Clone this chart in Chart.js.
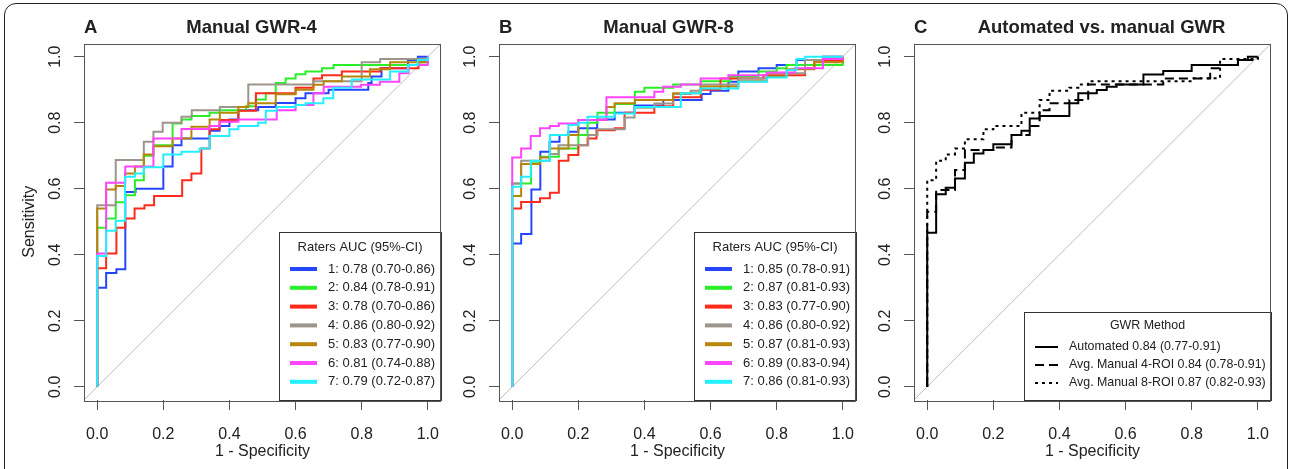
<!DOCTYPE html>
<html>
<head>
<meta charset="utf-8">
<script src="https://cdn.jsdelivr.net/npm/chart.js@4.4.1/dist/chart.umd.min.js"></script>
<style>
  body { margin: 0; background: #fff; width: 1290px; height: 469px; overflow: hidden; position: relative; }
  .frame { position: absolute; left: 4px; top: 3px; width: 1282px; height: 520px; border: 1px solid #222; border-radius: 12px; }
  canvas { position: absolute; top: 0; }
</style>
</head>
<body>
<div class="frame"></div>
<canvas id="panelA" width="445" height="469" style="left:0px"></canvas>
<canvas id="panelB" width="445" height="469" style="left:415px"></canvas>
<canvas id="panelC" width="445" height="469" style="left:830px"></canvas>
<script>
// axis ticks
const xTicks = [0, 0.2, 0.4, 0.6, 0.8, 1.0];
const yTicks = [0, 0.2, 0.4, 0.6, 0.8, 1.0];
const chance = [[-0.04, -0.04], [1.04, 1.04]];

// legend text
const raters = ['1', '2', '3', '4', '5', '6', '7'];
const aucA = ['0.78 (0.70-0.86)', '0.84 (0.78-0.91)', '0.78 (0.70-0.86)', '0.86 (0.80-0.92)',
              '0.83 (0.77-0.90)', '0.81 (0.74-0.88)', '0.79 (0.72-0.87)'];
const aucB = ['0.85 (0.78-0.91)', '0.87 (0.81-0.93)', '0.83 (0.77-0.90)', '0.86 (0.80-0.92)',
              '0.87 (0.81-0.93)', '0.89 (0.83-0.94)', '0.86 (0.81-0.93)'];
const methods = ['Automated 0.84 (0.77-0.91)', 'Avg. Manual 4-ROI 0.84 (0.78-0.91)', 'Avg. Manual 8-ROI 0.87 (0.82-0.93)'];

// ROC steps: [1 - specificity where the curve rises, sensitivity it rises to]
const rocA1 = [[0,0],[0,0.30],[0.027,0.345],[0.058,0.356],[0.085,0.59],[0.116,0.60],[0.2,0.667],[0.228,0.732],[0.255,0.752],[0.34,0.776],[0.37,0.79],[0.4,0.81],[0.427,0.838],[0.487,0.848],[0.54,0.86],[0.6,0.874],[0.63,0.889],[0.7,0.90],[0.82,0.92],[0.83,0.94],[0.86,0.965],[0.94,0.99],[0.97,1],[1,1]];
const rocA2 = [[0,0],[0,0.482],[0.027,0.51],[0.056,0.559],[0.084,0.58],[0.114,0.626],[0.141,0.70],[0.17,0.732],[0.228,0.798],[0.255,0.81],[0.285,0.82],[0.34,0.83],[0.37,0.838],[0.45,0.85],[0.48,0.87],[0.51,0.889],[0.54,0.92],[0.57,0.934],[0.6,0.947],[0.63,0.955],[0.68,0.965],[0.715,0.975],[0.97,0.983],[1,1]];
const rocA3 = [[0,0],[0,0.359],[0.027,0.404],[0.058,0.482],[0.085,0.51],[0.113,0.54],[0.143,0.55],[0.172,0.578],[0.257,0.626],[0.285,0.646],[0.315,0.722],[0.34,0.78],[0.37,0.808],[0.427,0.836],[0.48,0.889],[0.6,0.906],[0.654,0.934],[0.68,0.944],[0.74,0.955],[0.856,0.965],[0.972,0.985],[1,1]];
const rocA4 = [[0,0],[0,0.55],[0.056,0.687],[0.141,0.742],[0.17,0.773],[0.198,0.80],[0.255,0.818],[0.286,0.838],[0.371,0.848],[0.457,0.916],[0.654,0.926],[0.80,0.983],[0.856,0.993],[1,1]];
const rocA5 = [[0,0],[0,0.54],[0.027,0.598],[0.056,0.608],[0.084,0.646],[0.114,0.667],[0.141,0.704],[0.17,0.729],[0.228,0.752],[0.285,0.788],[0.34,0.81],[0.371,0.83],[0.427,0.848],[0.457,0.859],[0.54,0.886],[0.6,0.90],[0.654,0.915],[0.685,0.926],[0.74,0.94],[0.825,0.962],[0.886,0.983],[1,1]];
const rocA6 = [[0,0],[0,0.404],[0.027,0.618],[0.085,0.667],[0.17,0.752],[0.255,0.781],[0.34,0.79],[0.37,0.803],[0.427,0.81],[0.543,0.838],[0.6,0.854],[0.654,0.889],[0.685,0.909],[0.798,0.915],[0.855,0.924],[0.914,0.95],[0.942,0.975],[1,1]];
const rocA7 = [[0,0],[0,0.396],[0.027,0.473],[0.056,0.503],[0.084,0.636],[0.114,0.646],[0.141,0.665],[0.2,0.704],[0.255,0.712],[0.31,0.722],[0.34,0.76],[0.4,0.78],[0.427,0.79],[0.487,0.80],[0.51,0.836],[0.543,0.848],[0.6,0.854],[0.63,0.859],[0.684,0.874],[0.714,0.906],[0.77,0.931],[0.886,0.955],[0.94,0.975],[0.97,0.99],[1,1]];

const rocB1 = [[0,0],[0,0.434],[0.027,0.463],[0.058,0.598],[0.085,0.712],[0.113,0.742],[0.143,0.763],[0.17,0.773],[0.2,0.783],[0.257,0.81],[0.31,0.83],[0.37,0.852],[0.457,0.869],[0.573,0.887],[0.6,0.897],[0.654,0.924],[0.684,0.955],[0.745,0.965],[0.80,0.975],[0.86,0.99],[0.94,1],[1,1]];
const rocB2 = [[0,0],[0,0.616],[0.057,0.677],[0.084,0.697],[0.141,0.722],[0.2,0.763],[0.228,0.80],[0.258,0.83],[0.31,0.857],[0.371,0.894],[0.4,0.906],[0.487,0.916],[0.57,0.926],[0.66,0.94],[0.745,0.955],[0.80,0.965],[0.83,0.975],[1,1]];
const rocB3 = [[0,0],[0,0.54],[0.027,0.56],[0.084,0.571],[0.114,0.588],[0.141,0.685],[0.17,0.702],[0.2,0.732],[0.228,0.752],[0.255,0.777],[0.31,0.783],[0.34,0.83],[0.43,0.85],[0.487,0.877],[0.57,0.90],[0.63,0.934],[0.76,0.944],[0.886,0.965],[0.914,0.988],[1,1]];
const rocB4 = [[0,0],[0,0.616],[0.027,0.685],[0.113,0.705],[0.14,0.732],[0.23,0.763],[0.258,0.78],[0.34,0.816],[0.37,0.845],[0.43,0.858],[0.487,0.887],[0.54,0.897],[0.57,0.916],[0.684,0.934],[0.77,0.95],[0.886,0.99],[0.94,1],[1,1]];
const rocB5 = [[0,0],[0,0.578],[0.027,0.675],[0.084,0.695],[0.114,0.722],[0.17,0.763],[0.2,0.808],[0.285,0.848],[0.31,0.859],[0.371,0.869],[0.487,0.889],[0.57,0.91],[0.684,0.926],[0.77,0.94],[0.83,0.962],[0.914,0.983],[1,1]];
const rocB6 = [[0,0],[0,0.695],[0.027,0.722],[0.056,0.76],[0.084,0.783],[0.114,0.79],[0.141,0.798],[0.2,0.808],[0.285,0.877],[0.43,0.894],[0.457,0.909],[0.51,0.916],[0.57,0.934],[0.654,0.944],[0.77,0.952],[0.855,0.965],[0.94,0.993],[1,1]];
const rocB7 = [[0,0],[0,0.606],[0.027,0.636],[0.056,0.685],[0.114,0.763],[0.17,0.793],[0.2,0.80],[0.228,0.818],[0.31,0.828],[0.371,0.848],[0.51,0.889],[0.57,0.904],[0.684,0.924],[0.77,0.937],[0.83,0.96],[0.86,0.993],[0.886,1],[1,1]];

const rocAuto = [[0,0],[0,0.467],[0.027,0.583],[0.056,0.603],[0.084,0.631],[0.114,0.679],[0.141,0.707],[0.17,0.717],[0.2,0.735],[0.255,0.763],[0.285,0.776],[0.31,0.813],[0.34,0.82],[0.43,0.859],[0.457,0.889],[0.513,0.899],[0.543,0.909],[0.573,0.916],[0.654,0.946],[0.714,0.957],[0.8,0.975],[0.94,0.99],[0.97,1],[1,1]];
const rocMan4 = [[0,0],[0,0.53],[0.027,0.596],[0.084,0.657],[0.114,0.717],[0.2,0.725],[0.255,0.763],[0.31,0.79],[0.34,0.838],[0.37,0.859],[0.43,0.869],[0.487,0.916],[0.714,0.934],[0.856,0.965],[0.886,0.975],[0.94,0.99],[1,1]];
const rocMan8 = [[0,0],[0,0.626],[0.027,0.685],[0.056,0.704],[0.084,0.722],[0.114,0.75],[0.17,0.78],[0.2,0.79],[0.285,0.83],[0.34,0.869],[0.37,0.897],[0.43,0.906],[0.457,0.916],[0.487,0.926],[0.8,0.935],[0.886,0.993],[1,1]];

const raterColors = ['#2446ff', '#2aee2a', '#ff2a1a', '#9d958b', '#b8860b', '#ff44ff', '#22f0ff'];
const FONT = '"Liberation Sans", Arial, Helvetica, sans-serif';
Chart.defaults.font.family = FONT;
Chart.defaults.color = '#222';

const toPts = steps => steps.map(p => ({ x: p[0], y: p[1] }));

const rocFrame = {
  id: 'rocFrame',
  afterDatasetsDraw(chart, args, o) {
    const { ctx, chartArea: a } = chart;
    const L = o.legend;
    const lx = a.right - L.width, ly = a.top + L.top;
    ctx.save();
    ctx.fillStyle = '#fff';
    ctx.fillRect(lx, ly, a.right - lx, a.bottom - ly);
    ctx.strokeStyle = '#333';
    ctx.lineWidth = 1;
    ctx.strokeRect(Math.round(lx) + 0.5, Math.round(ly) + 0.5, Math.round(a.right - lx), Math.round(a.bottom - ly));
    ctx.fillStyle = '#222';
    ctx.font = L.fontSize + 'px ' + FONT;
    ctx.textAlign = 'center';
    ctx.textBaseline = 'middle';
    ctx.fillText(L.title, (lx + a.right) / 2, ly + L.titleDy);
    ctx.textAlign = 'left';
    chart.data.datasets.filter(d => d.label).forEach((d, i) => {
      const yy = ly + L.firstDy + i * L.gap;
      ctx.strokeStyle = d.borderColor;
      ctx.lineWidth = L.lineWidth;
      ctx.setLineDash(d.borderDash || []);
      ctx.beginPath();
      ctx.moveTo(lx + L.lineX0, yy);
      ctx.lineTo(lx + L.lineX1, yy);
      ctx.stroke();
      ctx.setLineDash([]);
      ctx.fillText(d.label, lx + L.textX, yy);
    });
    ctx.restore();
  },
  afterDraw(chart, args, o) {
    const { ctx, chartArea: a, scales: { y } } = chart;
    ctx.save();
    ctx.strokeStyle = '#555';
    ctx.lineWidth = 1;
    ctx.strokeRect(Math.round(a.left) + 0.5, Math.round(a.top) + 0.5, Math.round(a.width) - 1, Math.round(a.height));
    // rotated y tick labels, R style
    ctx.fillStyle = '#222';
    ctx.font = '16px ' + FONT;
    ctx.textAlign = 'center';
    ctx.textBaseline = 'middle';
    y.ticks.forEach(t => {
      ctx.save();
      ctx.translate(a.left - 28, y.getPixelForValue(t.value));
      ctx.rotate(-Math.PI / 2);
      ctx.fillText(t.value.toFixed(1), 0, 0);
      ctx.restore();
    });
    // panel letter and title
    ctx.font = 'bold 18.5px ' + FONT;
    ctx.textAlign = 'left';
    ctx.fillText(o.letter, a.left, 27.5);
    ctx.textAlign = 'center';
    ctx.fillText(o.title, (a.left + a.right) / 2 + o.titleShift, 27.5);
    ctx.restore();
  }
};

function makePanel(id, p) {
  const datasets = p.series.map((s, i) => ({
    label: s.label,
    data: toPts(s.data),
    borderColor: s.color,
    borderDash: s.dash || [],
    borderWidth: 2,
    stepped: 'before',
    pointRadius: 0,
    fill: false,
    order: p.series.length - i
  }));
  datasets.push({ label: '', data: toPts(chance), borderColor: '#bdbdbd', borderWidth: 1, pointRadius: 0, order: 99 });
  const grid = { drawOnChartArea: false, drawTicks: true, tickLength: 10, color: '#555' };
  return new Chart(document.getElementById(id), {
    type: 'line',
    data: { datasets },
    options: {
      responsive: false,
      animation: false,
      events: [],
      layout: { padding: { top: 43.5, right: 4, left: 0, bottom: 0 } },
      plugins: {
        legend: { display: false },
        tooltip: { enabled: false },
        rocFrame: { letter: p.letter, title: p.title, titleShift: p.titleShift, legend: p.legend }
      },
      scales: {
        x: {
          type: 'linear', min: -0.04, max: 1.04,
          afterBuildTicks: s => { s.ticks = xTicks.map(v => ({ value: v })); },
          afterFit: s => { s.height = 69; s.paddingLeft = 0; s.paddingRight = 0; },
          ticks: { callback: v => v.toFixed(1), font: { size: 16 }, color: '#222', padding: 15, maxRotation: 0, autoSkip: false },
          grid, border: { display: false },
          title: { display: true, text: '1 - Specificity', font: { size: 16 }, color: '#222', padding: { top: 0, bottom: 8 } }
        },
        y: {
          type: 'linear', min: -0.04, max: 1.04,
          afterBuildTicks: s => { s.ticks = yTicks.map(v => ({ value: v })); },
          afterFit: s => { s.width = 84; s.paddingTop = 0; s.paddingBottom = 0; },
          ticks: { display: false },
          grid, border: { display: false },
          title: { display: p.yTitle, text: 'Sensitivity', font: { size: 16 }, color: '#222', padding: { top: 20, bottom: 0 } }
        }
      }
    },
    plugins: [rocFrame]
  });
}

const raterLegend = title => ({ title, width: 162, top: 188.5, titleDy: 15, firstDy: 37, gap: 18.8, lineX0: 11, lineX1: 38, textX: 49, lineWidth: 4, fontSize: 13 });

makePanel('panelA', {
  letter: 'A', title: 'Manual GWR-4', titleShift: -11, yTitle: true, legend: raterLegend('Raters AUC (95%-CI)'),
  series: [rocA1, rocA2, rocA3, rocA4, rocA5, rocA6, rocA7].map((d, i) => ({ data: d, color: raterColors[i], label: raters[i] + ': ' + aucA[i] }))
});
makePanel('panelB', {
  letter: 'B', title: 'Manual GWR-8', titleShift: -9, yTitle: false, legend: raterLegend('Raters AUC (95%-CI)'),
  series: [rocB1, rocB2, rocB3, rocB4, rocB5, rocB6, rocB7].map((d, i) => ({ data: d, color: raterColors[i], label: raters[i] + ': ' + aucB[i] }))
});
makePanel('panelC', {
  letter: 'C', title: 'Automated vs. manual GWR', titleShift: 9, yTitle: false,
  legend: { title: 'GWR Method', width: 247, top: 268.5, titleDy: 14, firstDy: 35, gap: 18, lineX0: 11, lineX1: 34, textX: 45, lineWidth: 2, fontSize: 12.4 },
  series: [
    { data: rocAuto, color: '#000', label: methods[0] },
    { data: rocMan4, color: '#000', dash: [9, 5], label: methods[1] },
    { data: rocMan8, color: '#000', dash: [3, 4], label: methods[2] }
  ]
});
</script>
</body>
</html>
